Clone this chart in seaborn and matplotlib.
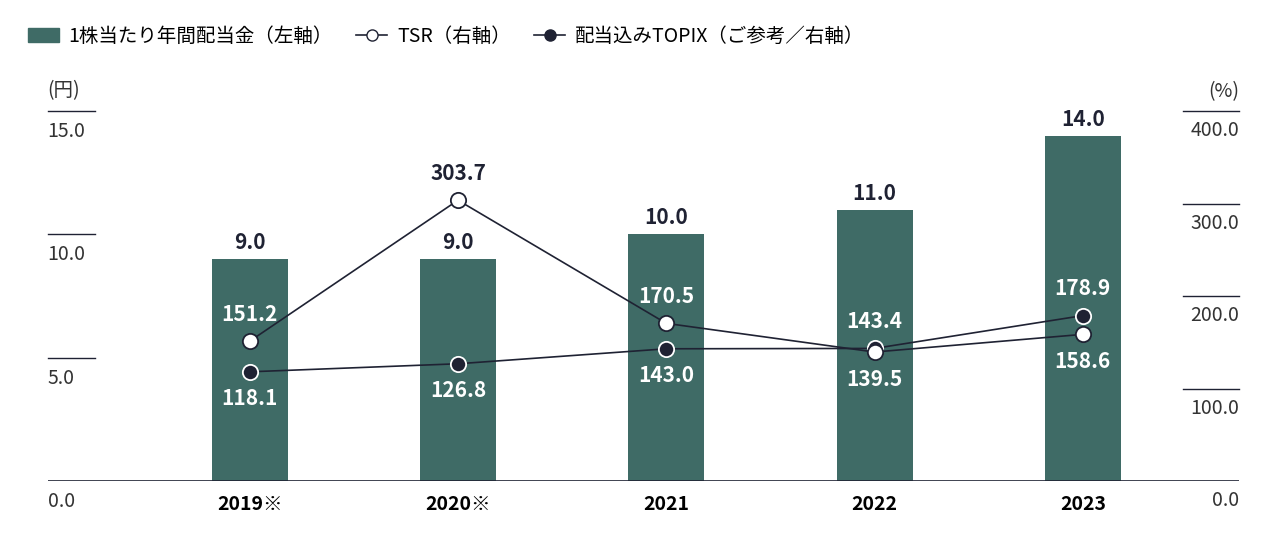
import matplotlib
matplotlib.use("Agg")
import matplotlib.pyplot as plt
import matplotlib.transforms as mtransforms
import seaborn as sns
import pandas as pd
from matplotlib.lines import Line2D
from matplotlib.patches import Patch

plt.rcParams['font.family'] = 'Noto Sans CJK JP'

years = ['2019※', '2020※', '2021', '2022', '2023']
dividend = [9.0, 9.0, 10.0, 11.0, 14.0]
tsr = [151.2, 303.7, 170.5, 139.5, 158.6]
topix = [118.1, 126.8, 143.0, 143.4, 178.9]
left_ticks = [0, 5, 10, 15]
right_ticks = [0, 100, 200, 300, 400]

bar_color = '#3f6b66'
dark = '#1f2233'

fig = plt.figure(figsize=(12.88, 5.36), dpi=100)
ax = fig.add_axes([0.037, 0.1026, 0.925, 0.690])
df = pd.DataFrame({'year': years, 'dividend': dividend})
sns.barplot(data=df, x='year', y='dividend', color=bar_color, width=0.365,
            saturation=1, ax=ax)
ax.set_xlim(-0.97, 4.75)
ax.set_ylim(0, 15)
for s in ax.spines.values():
    s.set_visible(False)
ax.set_yticks([])
ax.set_xlabel('')
ax.set_ylabel('')
ax.tick_params(axis='x', length=0, pad=10)
for lab in ax.get_xticklabels():
    lab.set_fontsize(14)
    lab.set_fontweight('bold')
ax.axhline(0, color=dark, lw=1.2, zorder=5)

for i, v in enumerate(dividend):
    ax.text(i, v + 0.25, f'{v:.1f}', ha='center', va='bottom', fontsize=15,
            fontweight='bold', color=dark)

ax2 = ax.twinx()
ax2.set_ylim(0, 400)
for s in ax2.spines.values():
    s.set_visible(False)
ax2.set_yticks([])
x = list(range(len(years)))
ax2.plot(x, topix, color=dark, lw=1.2, marker='o', ms=11, mfc=dark,
         mec='white', mew=1.3, zorder=6)
ax2.plot(x, tsr, color=dark, lw=1.2, marker='o', ms=11, mfc='white',
         mec=dark, mew=1.3, zorder=7)

tsr_above = [True, True, True, False, False]
for i in x:
    for vals, above in ((tsr, tsr_above[i]), (topix, not tsr_above[i])):
        v = vals[i]
        col = dark if v > 14 * 400 / 15 * 0 + (dividend[i] / 15 * 400 + 5) else 'white'
        if above:
            ax2.text(i, v + 18, f'{v:.1f}', ha='center', va='bottom', fontsize=15,
                     fontweight='bold', color=col, zorder=8)
        else:
            ax2.text(i, v - 18, f'{v:.1f}', ha='center', va='top', fontsize=15,
                     fontweight='bold', color=col, zorder=8)

# axis tick lines and labels
tl = mtransforms.blended_transform_factory(ax.transAxes, ax.transData)
for t in left_ticks:
    if t > 0:
        ax.plot([0, 0.04], [t, t], color=dark, lw=1, transform=tl, clip_on=False)
    ax.text(0.0, t - 0.4, f'{t:.1f}', ha='left', va='top', fontsize=14,
            color='#333333', transform=tl)
ax.text(0.0, 15.4, '(円)', ha='left', va='bottom', fontsize=14, color='#333333',
        transform=tl)
tr = mtransforms.blended_transform_factory(ax2.transAxes, ax2.transData)
for t in right_ticks:
    if t > 0:
        ax2.plot([0.953, 1.0], [t, t], color=dark, lw=1, transform=tr, clip_on=False)
    ax2.text(1.0, t - 10, f'{t:.1f}', ha='right', va='top', fontsize=14,
             color='#333333', transform=tr)
ax2.text(1.0, 410, '(%)', ha='right', va='bottom', fontsize=14, color='#333333',
         transform=tr)

handles = [
    Patch(color=bar_color, label='1株当たり年間配当金（左軸）'),
    Line2D([], [], color=dark, lw=1.2, marker='o', ms=8, mfc='white', mec=dark,
           label='TSR（右軸）'),
    Line2D([], [], color=dark, lw=1.2, marker='o', ms=8, mfc=dark, mec=dark,
           label='配当込みTOPIX（ご参考／右軸）'),
]
fig.legend(handles=handles, loc='upper left', bbox_to_anchor=(0.008, 0.985),
           ncol=3, frameon=False, fontsize=14, handlelength=1.6,
           handletextpad=0.5, columnspacing=1.2)

fig.savefig('out.png', dpi=100)
